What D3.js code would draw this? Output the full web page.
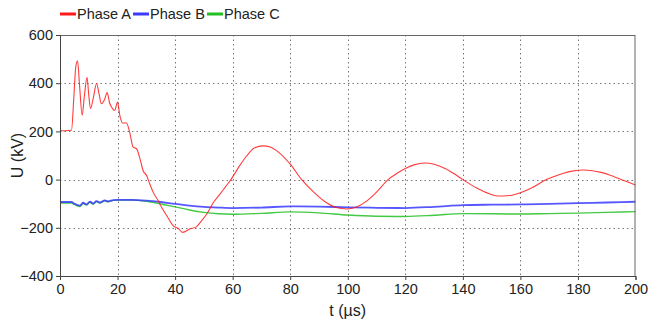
<!DOCTYPE html>
<html>
<head>
<meta charset="utf-8">
<script src="https://cdn.jsdelivr.net/npm/d3@7"></script>
<style>
  html, body { margin: 0; padding: 0; background: #fff; }
  svg { display: block; font-family: "Liberation Sans", Arial, sans-serif; }
</style>
</head>
<body>
<svg id="chart" width="648" height="322"></svg>
<script>
// ---- Data ----
const seriesNames = ["Phase A", "Phase B", "Phase C"];
const xTicks = [0, 20, 40, 60, 80, 100, 120, 140, 160, 180, 200];
const yTicks = [-400, -200, 0, 200, 400, 600];

const tA = [0, 2, 4, 4.8, 5.5, 6.1, 6.8, 7.7, 8.5, 9.4, 10, 10.6, 11.6, 12.7, 13.5, 14.4, 15.4, 16.4, 17.2, 17.9, 19, 20, 20.8, 21.7, 23.1, 24.3, 25.4, 26.6, 27.8, 28.9, 30.1, 31.2, 32.4, 34.1, 35.3, 37.1, 39.4, 41.1, 42.6, 45.1, 47.4, 49.2, 51, 53.3, 55.6, 57.5, 59.4, 62.5, 65, 67.5, 70.6, 73, 76, 80, 84, 88, 92, 96, 99.6, 103, 107, 110, 114, 117, 120, 123, 126.9, 130, 134, 137, 140, 145, 149, 152, 154, 157, 160, 164, 169, 172, 175, 178, 182, 185, 188, 191, 195, 200];
const phaseA = [204, 203, 205, 340, 470, 493, 390, 267, 350, 424, 350, 295, 340, 399, 360, 315, 330, 361, 320, 301, 287, 322, 265, 235, 235, 192, 135, 128, 86, 37, 17, -18, -53, -87, -115, -150, -192, -203, -219, -205, -196, -171, -143, -95, -60, -30, 0, 59, 100, 131, 140, 135, 113, 64, 0, -50, -91, -116, -122, -114, -85, -52, 0, 25, 46, 61, 69, 64, 45, 24, 0, -36, -58, -68, -68, -65, -55, -34, 0, 14, 26, 35, 40, 37, 30, 19, 0, -22];

const tBC = [0, 4, 5, 6.9, 8, 9.2, 10.4, 11.5, 12.7, 13.8, 15.6, 16.7, 18.5, 20, 25, 30, 35, 40, 45, 50, 55, 60, 70, 80, 90, 100, 110, 120, 130, 140, 150, 160, 170, 180, 190, 200];
const phaseB = [-93, -93, -100, -108, -96, -103, -91, -99, -89, -95, -86, -90, -85, -84, -84, -87, -93, -101, -108, -113, -116, -118, -116, -111, -112, -115, -117, -118, -113, -106, -104, -103, -101, -98, -95, -92];
const phaseC = [-97, -97, -103, -112, -99, -106, -94, -102, -91, -97, -88, -92, -86, -85, -85, -90, -101, -113, -126, -136, -142, -144, -140, -134, -138, -147, -152, -153, -148, -141, -142, -143, -141, -139, -136, -133];

const colors = ["#ff1a1a", "#3a3aff", "#22c022"];

// ---- Layout ----
const svg = d3.select("#chart");
const W = 648, H = 322;
const m = { left: 60, top: 35, right: 12.5, bottom: 46 };
const iw = W - m.left - m.right, ih = H - m.top - m.bottom;

const x = d3.scaleLinear().domain([0, 200]).range([m.left, m.left + iw]);
const y = d3.scaleLinear().domain([-400, 600]).range([m.top + ih, m.top]);

// grid
const grid = svg.append("g");
grid.selectAll(".gx").data(xTicks.filter(d => d > 0 && d < 200)).join("line")
  .attr("x1", d => Math.round(x(d)) + 0.5).attr("x2", d => Math.round(x(d)) + 0.5)
  .attr("y1", m.top).attr("y2", m.top + ih)
  .attr("stroke", "#777").attr("stroke-width", 1).attr("stroke-dasharray", "1.5,3");
grid.selectAll(".gy").data(yTicks.filter(d => d > -400 && d < 600)).join("line")
  .attr("y1", d => Math.round(y(d)) + 0.5).attr("y2", d => Math.round(y(d)) + 0.5)
  .attr("x1", m.left).attr("x2", m.left + iw)
  .attr("stroke", "#777").attr("stroke-width", 1).attr("stroke-dasharray", "1.5,3");

// series
const line = d3.line().x(d => x(d[0])).y(d => y(d[1])).curve(d3.curveMonotoneX);
const plot = svg.append("g");
const seriesData = [
  d3.zip(tBC, phaseC),
  d3.zip(tBC, phaseB),
  d3.zip(tA, phaseA)
];
const seriesColor = [colors[2], colors[1], colors[0]];
const seriesWidth = [1.4, 1.8, 1.1];
seriesData.forEach((d, i) => {
  plot.append("path").datum(d).attr("d", line)
    .attr("fill", "none").attr("stroke", seriesColor[i])
    .attr("stroke-width", seriesWidth[i]).attr("stroke-opacity", 0.85)
    .attr("stroke-linejoin", "round");
});

// frame (top/right)
svg.append("rect").attr("x", m.left + 0.5).attr("y", m.top + 0.5)
  .attr("width", iw - 1).attr("height", ih)
  .attr("fill", "none").attr("stroke", "#666").attr("stroke-width", 1);

// axes
const xAxis = d3.axisBottom(x).tickValues(xTicks).tickSize(4).tickPadding(4);
const yAxis = d3.axisLeft(y).tickValues(yTicks).tickSize(4).tickPadding(3);
const gx = svg.append("g").attr("transform", `translate(0,${m.top + ih})`).call(xAxis);
const gy = svg.append("g").attr("transform", `translate(${m.left},0)`).call(yAxis);
[gx, gy].forEach(g => {
  g.select(".domain").attr("stroke", "#444");
  g.selectAll(".tick line").attr("stroke", "#444");
  g.selectAll("text").attr("font-size", 14.5).attr("fill", "#222")
    .attr("font-family", "'Liberation Sans', Arial, sans-serif");
});

// axis titles
svg.append("text").attr("x", x(100)).attr("y", 316)
  .attr("text-anchor", "middle").attr("font-size", 16).attr("fill", "#222")
  .text("t (µs)");
svg.append("text").attr("transform", `translate(23,${y(100)}) rotate(-90)`)
  .attr("text-anchor", "middle").attr("font-size", 16).attr("fill", "#222")
  .text("U (kV)");

// legend
const legendX = [60, 133, 207];
const leg = svg.append("g");
seriesNames.forEach((name, i) => {
  leg.append("line").attr("x1", legendX[i]).attr("x2", legendX[i] + 16)
    .attr("y1", 14).attr("y2", 14).attr("stroke", colors[i]).attr("stroke-width", 3);
  leg.append("text").attr("x", legendX[i] + 17).attr("y", 19)
    .attr("font-size", 14.5).attr("fill", "#222").text(name);
});
</script>
</body>
</html>
